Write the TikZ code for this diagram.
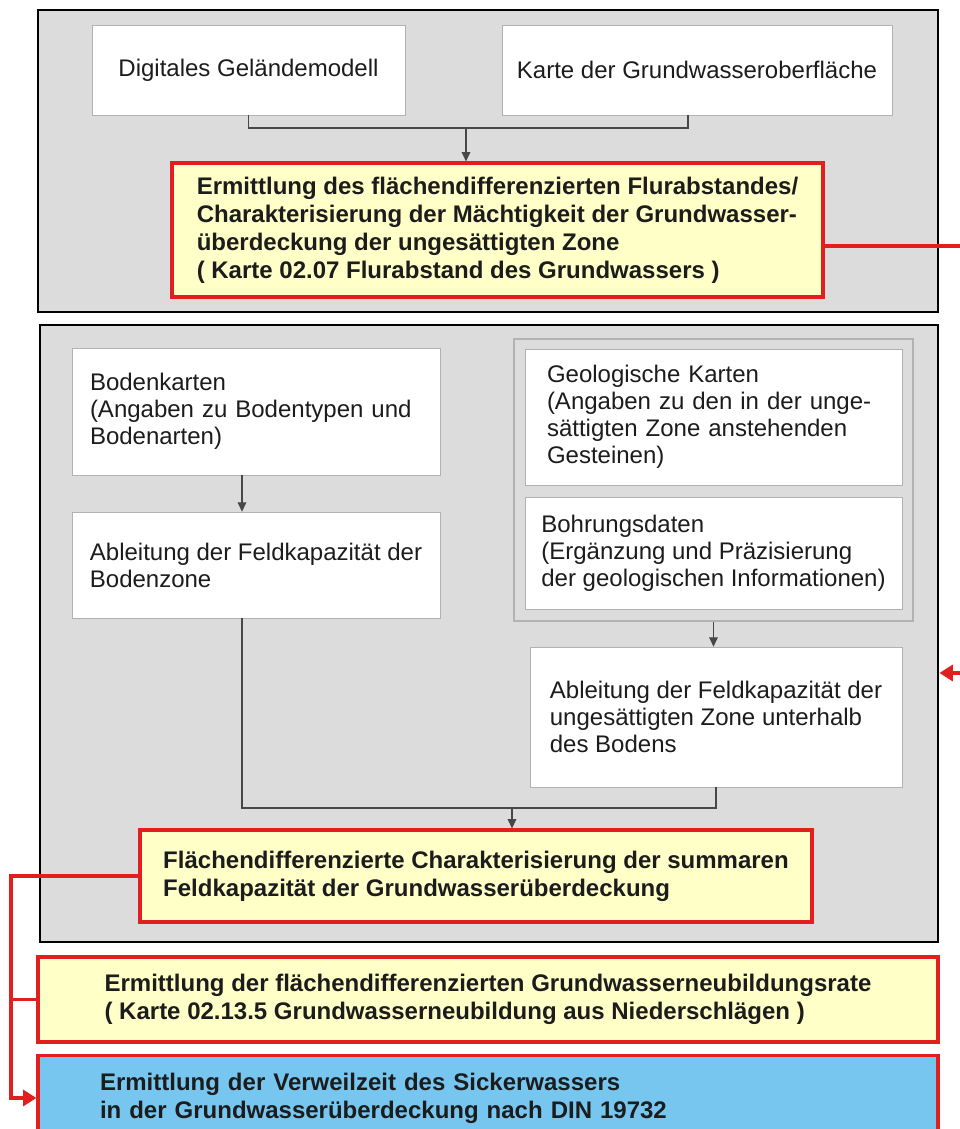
\documentclass[tikz,border=0pt]{standalone}
\usepackage{fontspec}
\setmainfont{Liberation Sans}
\usetikzlibrary{arrows.meta}
\definecolor{panelgray}{RGB}{220,220,220}
\definecolor{boxline}{RGB}{178,178,178}
\definecolor{hiyellow}{RGB}{255,255,200}
\definecolor{hired}{RGB}{226,30,30}
\definecolor{skyblue}{RGB}{118,198,240}
\definecolor{inkgray}{RGB}{28,28,28}
\begin{document}
\begin{tikzpicture}[x=0.75pt,y=0.75pt,yscale=-1,xscale=1,
	panel/.style={draw=black, line width=2.2pt, fill=panelgray, inner sep=0pt},
	group/.style={draw=boxline, line width=0.9pt, fill=panelgray, inner sep=0pt},
	card/.style={draw=boxline, line width=0.5pt, fill=white, align=left, text=inkgray, font=\fontsize{18}{20.25}\selectfont},
	result/.style={draw=hired, line width=2.4pt, fill=hiyellow, align=left, text=inkgray, font=\fontsize{18}{21}\selectfont\bfseries},
	link/.style={draw=black!72, line width=0.8pt},
	flow/.style={link, -{Triangle[length=7pt,width=6.5pt]}},
	redlink/.style={draw=hired, line width=2.4pt},
	redflow/.style={redlink, -{Triangle[length=10pt,width=12pt]}}]
	\useasboundingbox (0,0) rectangle (960,1129);

	\node [panel, minimum width=675pt, minimum height=226.5pt] (panelA) at (488,161) {};
	\node [panel, minimum width=673.5pt, minimum height=462.75pt] (panelB) at (489,633.5) {};
	\node [group, minimum width=299.25pt, minimum height=211.5pt] (geogroup) at (713.5,480) {};

	\node [card, align=center, minimum width=234.75pt, minimum height=67.5pt] (dgm) at (248.5,70) {Digitales Geländemodell};
	\node [card, align=center, minimum width=292.5pt, minimum height=67.5pt] (gwkarte) at (697,70) {Karte der Grundwasseroberfläche};
	\node [result, minimum width=488.25pt, minimum height=100.5pt] (flurabstand) at (497.5,230) {Ermittlung des flächendifferenzierten Flurabstandes/\\Charakterisierung der Mächtigkeit der Grundwasser-\\überdeckung der ungesättigten Zone\\( Karte 02.07 Flurabstand des Grundwassers )};

	\node [card, text width=249pt, inner xsep=13.5pt, minimum height=95.25pt] (bodenkarten) at (256,411.5) {Bodenkarten\\(Angaben zu Bodentypen und\\Bodenarten)};
	\node [card, minimum width=276pt, minimum height=79.5pt] (fkboden) at (256,565) {Ableitung der Feldkapazität der\\Bodenzone};
	\node [card, text width=249.75pt, inner xsep=16.5pt, minimum height=102pt] (geokarten) at (713.5,417) {Geologische Karten\\(Angaben zu den in der unge-\\sättigten Zone anstehenden\\Gesteinen)};
	\node [card, minimum width=282.75pt, minimum height=84pt] (bohrung) at (713.5,553) {Bohrungsdaten\\(Ergänzung und Präzisierung\\der geologischen Informationen)};
	\node [card, minimum width=279pt, minimum height=105pt] (fkzone) at (716,717) {Ableitung der Feldkapazität der\\ungesättigten Zone unterhalb\\des Bodens};
	\node [result, minimum width=504pt, minimum height=69pt] (summe) at (476,876) {Flächendifferenzierte Charakterisierung der summaren\\Feldkapazität der Grundwasserüberdeckung};

	\node [result, minimum width=675pt, minimum height=63.75pt] (neubildung) at (488,999.5) {Ermittlung der flächendifferenzierten Grundwasserneubildungsrate\\( Karte 02.13.5 Grundwasserneubildung aus Niederschlägen )};
	\node [result, fill=skyblue, text width=582pt, inner xsep=46.5pt, minimum height=63.75pt] (verweilzeit) at (488,1098) {Ermittlung der Verweilzeit des Sickerwassers\\in der Grundwasserüberdeckung nach DIN 19732};

	\coordinate (joinA) at (466,128);
	\coordinate (joinB) at (512,808);
	\coordinate (railL) at (11,0);
	\coordinate (railR) at (990,0);

	\draw [link] (dgm.south) |- (joinA) -| ([xshift=-6.75pt]gwkarte.south);
	\draw [flow] (joinA) -- (joinA |- flurabstand.north);
	\draw [flow] ([xshift=-10.5pt]bodenkarten.south) -- ([xshift=-10.5pt]fkboden.north);
	\draw [flow] (geogroup.south) -- (geogroup.south |- fkzone.north);
	\draw [link] ([xshift=-10.5pt]fkboden.south) |- (joinB) -| (fkzone.south);
	\draw [flow] (joinB) -- (joinB |- summe.north);

	\draw [redflow] ([yshift=12pt]flurabstand.east) -- ([yshift=12pt]flurabstand.east -| railR) |- ([yshift=29.6pt]panelB.east);
	\draw [redflow] (summe.west) -- (summe.west -| railL) |- (verweilzeit.west);
	\draw [redlink] (neubildung.west) -- (neubildung.west -| railL);
\end{tikzpicture}
\end{document}
